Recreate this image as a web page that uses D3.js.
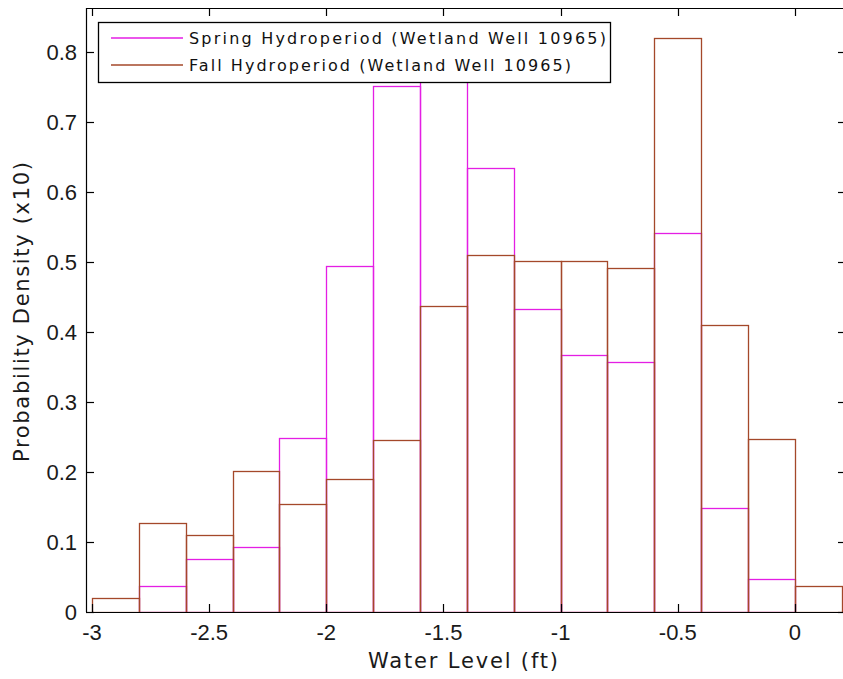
<!DOCTYPE html>
<html>
<head>
<meta charset="utf-8">
<script src="https://cdn.jsdelivr.net/npm/d3@7/dist/d3.min.js"></script>
<style>
  html, body { margin: 0; padding: 0; background: #fff; }
  svg { display: block; }
</style>
</head>
<body>
<svg id="chart" width="843" height="679"></svg>
<script>
// Histogram bins: left edges, width 0.2 ft
const binLeft = [-3.0, -2.8, -2.6, -2.4, -2.2, -2.0, -1.8, -1.6, -1.4, -1.2, -1.0, -0.8, -0.6, -0.4, -0.2, 0.0];
const binWidth = 0.2;

// Probability density (x10) per bin
const springDensity = [0.0, 0.037, 0.076, 0.093, 0.248, 0.495, 0.751, 0.80, 0.634, 0.433, 0.367, 0.357, 0.541, 0.148, 0.047, 0.0];
const fallDensity   = [0.020, 0.127, 0.110, 0.201, 0.155, 0.190, 0.246, 0.437, 0.510, 0.502, 0.502, 0.492, 0.820, 0.410, 0.247, 0.037];

const xTicks = [-3, -2.5, -2, -1.5, -1, -0.5, 0];
const yTicks = [0, 0.1, 0.2, 0.3, 0.4, 0.5, 0.6, 0.7, 0.8];

const seriesNames = ["Spring Hydroperiod (Wetland Well 10965)", "Fall Hydroperiod (Wetland Well 10965)"];
const seriesColors = ["#e41ee4", "#a4482a"];

const svg = d3.select("#chart");
const plot = { left: 86, top: 8, right: 846, bottom: 612 };

// x: -3 sits at 92 px, 0.2 at ~842 px
const x = d3.scaleLinear().domain([-3.0256, 0.2179]).range([plot.left, plot.right]);
const y = d3.scaleLinear().domain([0, 0.863]).range([plot.bottom, plot.top]);

svg.append("defs").append("clipPath").attr("id", "plotClip")
  .append("rect")
  .attr("x", plot.left).attr("y", plot.top)
  .attr("width", plot.right - plot.left).attr("height", plot.bottom - plot.top);

const bars = svg.append("g").attr("clip-path", "url(#plotClip)");

function drawSeries(values, color) {
  bars.append("g")
    .selectAll("rect")
    .data(binLeft.map((b, i) => ({ x0: b, x1: b + binWidth, v: values[i] })).filter(d => d.v > 0))
    .join("rect")
    .attr("x", d => Math.round(x(d.x0)) + 0.5)
    .attr("width", d => Math.round(x(d.x1)) - Math.round(x(d.x0)))
    .attr("y", d => Math.round(y(d.v)) + 0.5)
    .attr("height", d => Math.round(y(0)) - Math.round(y(d.v)))
    .attr("fill", "none")
    .attr("stroke", color)
    .attr("stroke-width", 1.3);
}

drawSeries(springDensity, seriesColors[0]);
drawSeries(fallDensity, seriesColors[1]);

// Axes box with inward ticks on all four sides
const axisG = svg.append("g").attr("stroke", "#000").attr("stroke-width", 1.2).attr("fill", "none");
axisG.append("line").attr("x1", plot.left).attr("x2", plot.right).attr("y1", plot.bottom + 0.5).attr("y2", plot.bottom + 0.5);
axisG.append("line").attr("x1", plot.left).attr("x2", plot.right).attr("y1", plot.top + 0.5).attr("y2", plot.top + 0.5);
axisG.append("line").attr("x1", plot.left + 0.5).attr("x2", plot.left + 0.5).attr("y1", plot.top).attr("y2", plot.bottom);
axisG.append("line").attr("x1", plot.right - 0.5).attr("x2", plot.right - 0.5).attr("y1", plot.top).attr("y2", plot.bottom);

const tickLen = 8;
xTicks.forEach(t => {
  const px = Math.round(x(t)) + 0.5;
  axisG.append("line").attr("x1", px).attr("x2", px).attr("y1", plot.bottom).attr("y2", plot.bottom - tickLen);
  axisG.append("line").attr("x1", px).attr("x2", px).attr("y1", plot.top).attr("y2", plot.top + tickLen);
});
yTicks.forEach(t => {
  const py = Math.round(y(t)) + 0.5;
  axisG.append("line").attr("x1", plot.left).attr("x2", plot.left + tickLen).attr("y1", py).attr("y2", py);
  axisG.append("line").attr("x1", plot.right).attr("x2", plot.right - tickLen).attr("y1", py).attr("y2", py);
});

const fmt = d => (d === 0 ? "0" : String(d));
const tickFont = "'Liberation Sans', Arial, sans-serif";
const labelFont = "'DejaVu Sans', Verdana, sans-serif";

svg.append("g").selectAll("text")
  .data(xTicks).join("text")
  .attr("x", d => x(d))
  .attr("y", plot.bottom + 28)
  .attr("text-anchor", "middle")
  .attr("font-family", tickFont).attr("font-size", 22).attr("fill", "#1a1a1a")
  .text(fmt);

svg.append("g").selectAll("text")
  .data(yTicks).join("text")
  .attr("x", plot.left - 9)
  .attr("y", d => y(d) + 8)
  .attr("text-anchor", "end")
  .attr("font-family", tickFont).attr("font-size", 22).attr("fill", "#1a1a1a")
  .text(fmt);

svg.append("text")
  .attr("x", 463).attr("y", 668)
  .attr("text-anchor", "middle")
  .attr("font-family", labelFont).attr("font-size", 21).attr("fill", "#1a1a1a")
  .attr("textLength", 190).attr("lengthAdjust", "spacing")
  .text("Water Level (ft)");

svg.append("text")
  .attr("transform", "translate(29, 312) rotate(-90)")
  .attr("text-anchor", "middle")
  .attr("font-family", labelFont).attr("font-size", 21).attr("fill", "#1a1a1a")
  .attr("textLength", 300).attr("lengthAdjust", "spacing")
  .text("Probability Density (x10)");

// Legend
const legend = svg.append("g");
legend.append("rect")
  .attr("x", 98.5).attr("y", 22.5).attr("width", 512).attr("height", 60)
  .attr("fill", "#fff").attr("stroke", "#000").attr("stroke-width", 1.3);
const legendTextWidths = [417, 382];
seriesNames.forEach((name, i) => {
  const ly = 38 + i * 27;
  legend.append("line")
    .attr("x1", 111).attr("x2", 183).attr("y1", ly).attr("y2", ly)
    .attr("stroke", seriesColors[i]).attr("stroke-width", 1.5);
  legend.append("text")
    .attr("x", 189).attr("y", ly + 6)
    .attr("font-family", labelFont).attr("font-size", 16)
    .attr("textLength", legendTextWidths[i]).attr("lengthAdjust", "spacing")
    .attr("fill", "#111")
    .text(name);
});
</script>
</body>
</html>
